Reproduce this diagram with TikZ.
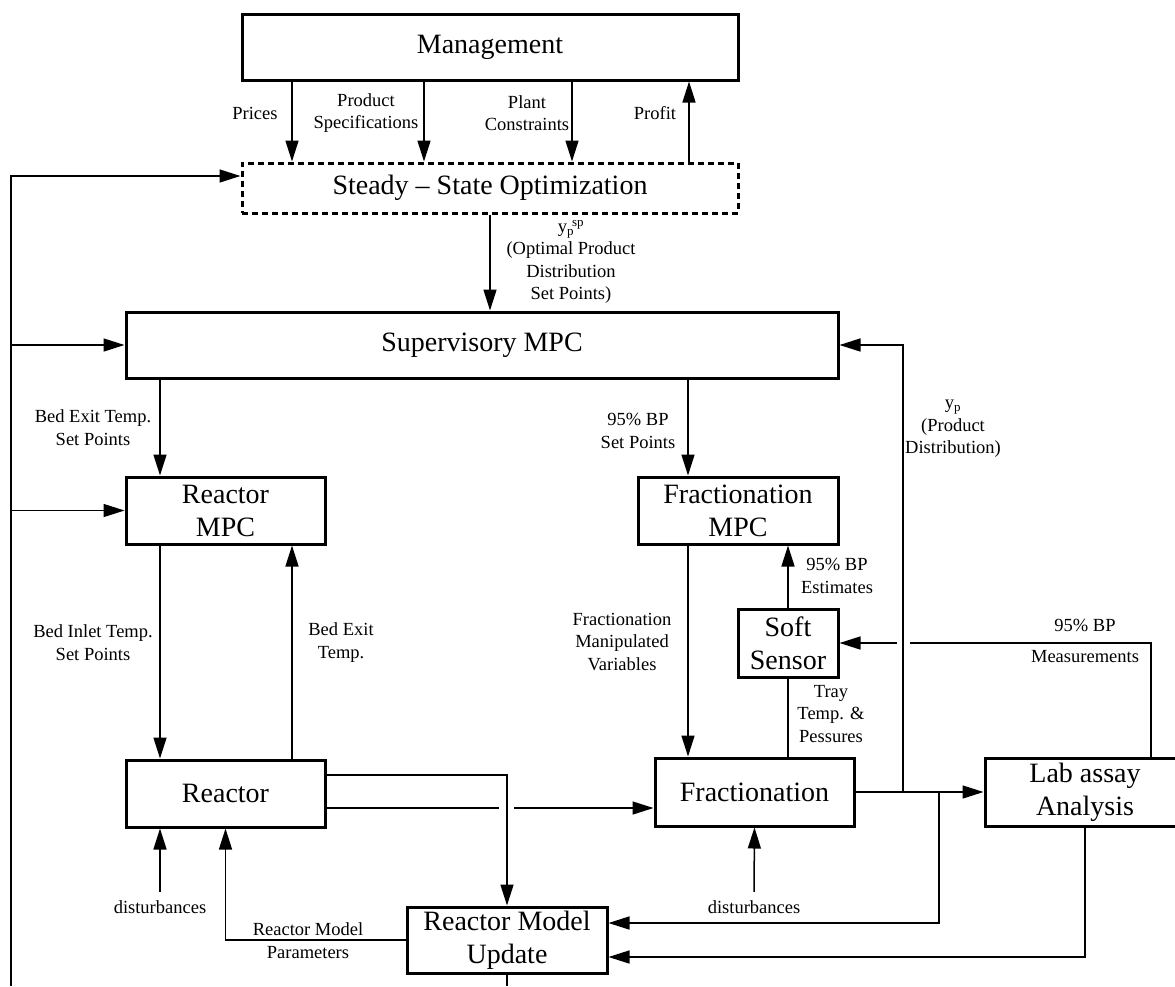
\documentclass[tikz,border=0pt]{standalone}
\usepackage{fontspec}
\setmainfont{Liberation Serif}
\usetikzlibrary{arrows.meta}
\newcommand{\boxfont}{\fontsize{28}{33}\selectfont}
\newcommand{\lblfont}{\fontsize{18.5}{22.5}\selectfont}
\tikzset{%
    block/.style={draw, line width=3pt, align=center, inner sep=0pt,
    	font=\boxfont},
    lbl/.style={align=center, inner sep=1pt, font=\lblfont},
    arr/.style={-{Triangle[length=21pt, width=13pt]}}
}
\begin{document}
\begin{tikzpicture}[x=1pt, y=-1pt, line width=1.5pt]
  \useasboundingbox (0,0) rectangle (1175,986);
  \clip (0,0) rectangle (1175,986);

  \node (mgmt) [block, minimum width=496pt, minimum height=66pt] at (490,47) {Management};
  \node (sso) [block, dash pattern=on 6pt off 4pt, minimum width=496pt, minimum height=50pt] at (490,188) {Steady -- State Optimization};
  \node (smpc) [block, minimum width=712pt, minimum height=66pt] at (482,345) {Supervisory MPC};
  \node (rmpc) [block, minimum width=199pt, minimum height=67pt] at (225.5,510.5) {Reactor\\MPC};
  \node (fmpc) [block, minimum width=200pt, minimum height=67pt] at (738,510.5) {Fractionation\\MPC};
  \node (soft) [block, minimum width=100pt, minimum height=68pt] at (788,643) {Soft\\Sensor};
  \node (reac) [block, minimum width=199pt, minimum height=67pt] at (225.5,793.5) {Reactor};
  \node (frac) [block, minimum width=199pt, minimum height=68pt] at (754.5,792) {Fractionation};
  \node (lab) [block, minimum width=200pt, minimum height=68pt] at (1085,792) {Lab assay\\Analysis};
  \node (rmu) [block, minimum width=200pt, minimum height=66pt] at (507,940) {Reactor Model\\Update};

  \node (lprice) [lbl] at (255,113) {Prices};
  \node (lspec) [lbl] at (366,113) {Product\\Specifications};
  \node (lplant) [lbl] at (527,113) {Plant\\Constraints};
  \node (lprofit) [lbl] at (655,113) {Profit};
  \node (lopt) [lbl] at (571,262) {y\textsubscript{p}\kern-2pt\textsuperscript{sp}\\(Optimal Product\\Distribution\\Set Points)};
  \node (lbedsp) [lbl] at (93,427.5) {Bed Exit Temp.\\Set Points};
  \node (lbpsp) [lbl] at (638,431) {95\% BP\\Set Points};
  \node (lprod) [lbl] at (953,429) {y\textsubscript{p}\\(Product\\Distribution)};
  \node (linlet) [lbl] at (93,642.5) {Bed Inlet Temp.\\Set Points};
  \node (lexit) [lbl] at (341,642.5) {Bed Exit\\Temp.};
  \node (lest) [lbl] at (837,576) {95\% BP\\Estimates};
  \node (lmv) [lbl] at (622,642) {Fractionation\\Manipulated\\Variables};
  \node (ltray) [lbl] at (831,714) {Tray\\Temp. \&\\Pessures};
  \node (lmeas1) [lbl] at (1085,625) {95\% BP};
  \node (lmeas2) [lbl] at (1085,657) {Measurements};
  \node (lparam) [lbl] at (308,940.5) {Reactor Model\\Parameters};
  \node (dist1) [lbl] at (160,907) {disturbances};
  \node (dist2) [lbl] at (754,907) {disturbances};

  \coordinate (fb) at (11,986);
  \coordinate (yj) at (903,792);
  \coordinate (bj) at (939,792);

  % management and optimization
  \foreach \dx in {-198,-66,82}
    \draw[arr] ([xshift=\dx pt]mgmt.south) -- ([xshift=\dx pt]sso.north);
  \draw[arr] ([xshift=199pt]sso.north) -- ([xshift=199pt]mgmt.south);
  \draw[arr] (sso.south) -- (sso.south |- smpc.north);

  % feedback on the left
  \draw[arr] (fb) |- ([yshift=12pt]sso.west);
  \draw[arr] (fb |- smpc.west) -- (smpc.west);
  \draw[arr] (fb |- rmpc.west) -- (rmpc.west);
  \draw (rmu.south) -- (rmu.south |- fb);

  % reactor side
  \draw[arr] ([xshift=-65.5pt]rmpc.north |- smpc.south) -- ([xshift=-65.5pt]rmpc.north);
  \draw[arr] ([xshift=-65.5pt]rmpc.south) -- ([xshift=-65.5pt]reac.north);
  \draw[arr] ([xshift=66.5pt]reac.north) -- ([xshift=66.5pt]rmpc.south);
  \draw[arr] ([yshift=7pt]dist1.north) -- (dist1.north |- reac.south);
  \draw[arr] (rmu.west) -| (reac.south);
  \draw[arr] ([yshift=18.5pt]reac.east) -| (rmu.north);
  \coordinate (r2) at ([yshift=-14.5pt]reac.east);
  \draw (r2) -- ([xshift=-8pt]r2 -| rmu.north);
  \draw[arr] ([xshift=7pt]r2 -| rmu.north) -- (r2 -| frac.west);

  % fractionation side
  \draw[arr] ([xshift=-50pt]fmpc.north |- smpc.south) -- ([xshift=-50pt]fmpc.north);
  \draw[arr] ([xshift=-50pt]fmpc.south) -- ([xshift=-50pt]fmpc.south |- frac.north);
  \draw[arr] (soft.north) -- (soft.north |- fmpc.south);
  \draw (frac.north -| soft.south) -- (soft.south);
  \draw[arr] ([yshift=7pt]dist2.north) -- (frac.south);
  \draw[arr] (frac.east) -- (lab.west);
  \draw[arr] (yj) |- (smpc.east);
  \draw[arr] (bj) |- ([yshift=17pt]rmu.east);
  \draw[arr] (lab.south) |- ([yshift=-17pt]rmu.east);
  \draw ([xshift=66pt]lab.north) |- ([xshift=7pt]soft.east -| yj);
  \draw[arr] ([xshift=-6pt]soft.east -| yj) -- (soft.east);
\end{tikzpicture}
\end{document}
